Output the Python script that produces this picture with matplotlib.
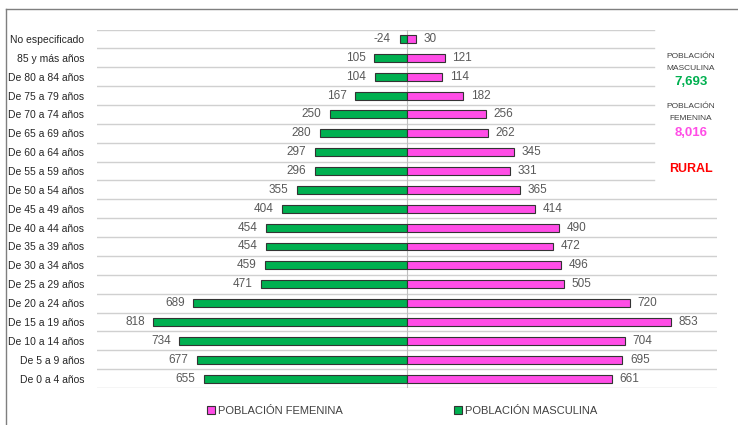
import matplotlib.pyplot as plt

plt.rcParams['font.family'] = ['Liberation Sans', 'DejaVu Sans']

# bottom to top
grupos = ["De 0 a 4 años", "De 5 a 9 años", "De 10 a 14 años", "De 15 a 19 años",
          "De 20 a 24 años", "De 25 a 29 años", "De 30 a 34 años", "De 35 a 39 años",
          "De 40 a 44 años", "De 45 a 49 años", "De 50 a 54 años", "De 55 a 59 años",
          "De 60 a 64 años", "De 65 a 69 años", "De 70 a 74 años", "De 75 a 79 años",
          "De 80 a 84 años", "85 y más años", "No especificado"]
masculina = [655, 677, 734, 818, 689, 471, 459, 454, 454, 404, 355, 296, 297, 280,
             250, 167, 104, 105, -24]
femenina = [661, 695, 704, 853, 720, 505, 496, 472, 490, 414, 365, 331, 345, 262,
            256, 182, 114, 121, 30]
total_masc = "7,693"
total_fem = "8,016"
zona = "RURAL"

verde = "#00b050"
rosa = "#ff4de6"
gris_txt = "#595959"

fig = plt.figure(figsize=(7.38, 4.25), dpi=100)
ax = fig.add_axes([97 / 738, 1 - 388 / 425, 620 / 738, (388 - 29.5) / 425])

y = list(range(len(grupos)))
neg_m = [-abs(v) for v in masculina]
ax.barh(y, neg_m, height=0.42, color=verde, edgecolor="#333333", linewidth=0.8,
        zorder=3, label="POBLACIÓN MASCULINA")
ax.barh(y, femenina, height=0.42, color=rosa, edgecolor="#333333", linewidth=0.8,
        zorder=3, label="POBLACIÓN FEMENINA")

for yi, m, f in zip(y, masculina, femenina):
    ax.text(-abs(m) - 28, yi, str(m), ha="right", va="center", fontsize=8.5,
            color=gris_txt)
    ax.text(f + 24, yi, str(f), ha="left", va="center", fontsize=8.5,
            color=gris_txt)

ax.set_xlim(-1000, 1000)
ax.set_ylim(-0.5, len(grupos) - 0.5)
ax.set_yticks(y)
ax.set_yticklabels(grupos, fontsize=7.5, color="#262626")
ax.tick_params(axis="y", length=0, pad=9)
ax.set_xticks([])
for s in ax.spines.values():
    s.set_visible(False)

# row separators (shorter at the top, where the totals sit)
for k in range(len(grupos) + 1):
    yk = k - 0.5
    xmax = 0.898 if yk > 10 else 1.0
    ax.axhline(yk, xmin=0, xmax=xmax, color="#d0d0d0", linewidth=1.0, zorder=1)
ax.axvline(0, color="#bfbfbf", linewidth=0.8, zorder=2)

# frame lines
fig.add_artist(plt.Line2D([6 / 738, 1], [1 - 9 / 425] * 2, color="#7f7f7f",
                          linewidth=1.0, transform=fig.transFigure))
fig.add_artist(plt.Line2D([6 / 738] * 2, [0, 1 - 9 / 425], color="#7f7f7f",
                          linewidth=1.0, transform=fig.transFigure))

# totals
def ftxt(px, py, s, **kw):
    fig.text(px / 738, 1 - py / 425, s, ha="center", va="center", **kw)

ftxt(691, 57, "POBLACIÓN", fontsize=6, color="#404040")
ftxt(691, 68, "MASCULINA", fontsize=6, color="#404040")
ftxt(691, 82, total_masc, fontsize=9.5, color=verde, fontweight="bold")
ftxt(691, 107, "POBLACIÓN", fontsize=6, color="#404040")
ftxt(691, 119, "FEMENINA", fontsize=6, color="#404040")
ftxt(691, 133, total_fem, fontsize=9.5, color=rosa, fontweight="bold")
ftxt(691, 169, zona, fontsize=9, color="#ff0000", fontweight="bold")

handles, labels = ax.get_legend_handles_labels()
fig.legend(handles[::-1], labels[::-1], loc="center", bbox_to_anchor=(402 / 738, 1 - 411 / 425),
           ncol=2, frameon=False, fontsize=8, handlelength=0.7, handleheight=0.7,
           handletextpad=0.3, columnspacing=10, labelcolor="#404040")

fig.savefig("out.png", dpi=100)
